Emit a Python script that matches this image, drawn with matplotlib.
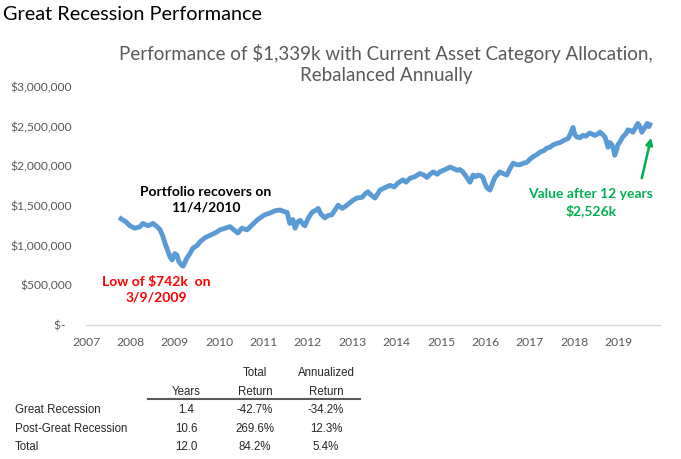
import matplotlib.pyplot as plt
from matplotlib.ticker import FuncFormatter

# portfolio value (millions of $), x in decimal years
years = [
    2007.79, 2007.90, 2007.99, 2008.10, 2008.22, 2008.28, 2008.40, 2008.51, 2008.60, 2008.67,
    2008.73, 2008.78, 2008.85, 2008.89, 2008.94, 2009.00, 2009.05, 2009.09, 2009.16, 2009.19,
    2009.27, 2009.34, 2009.41, 2009.50, 2009.57, 2009.68, 2009.79, 2009.91, 2010.02, 2010.13,
    2010.24, 2010.33, 2010.42, 2010.51, 2010.63, 2010.74, 2010.85, 2010.92, 2011.03, 2011.14,
    2011.26, 2011.37, 2011.46, 2011.53, 2011.59, 2011.66, 2011.71, 2011.77, 2011.82, 2011.89,
    2011.93, 2012.00, 2012.09, 2012.16, 2012.23, 2012.29, 2012.38, 2012.45, 2012.54, 2012.61,
    2012.68, 2012.77, 2012.83, 2012.92, 2013.01, 2013.10, 2013.22, 2013.28, 2013.35, 2013.42,
    2013.51, 2013.58, 2013.62, 2013.73, 2013.85, 2013.94, 2014.03, 2014.14, 2014.21, 2014.30,
    2014.41, 2014.52, 2014.61, 2014.68, 2014.75, 2014.82, 2014.91, 2014.97, 2015.09, 2015.20,
    2015.29, 2015.36, 2015.42, 2015.49, 2015.58, 2015.65, 2015.72, 2015.78, 2015.83, 2015.90,
    2015.94, 2015.99, 2016.03, 2016.10, 2016.14, 2016.21, 2016.28, 2016.32, 2016.39, 2016.48,
    2016.55, 2016.62, 2016.71, 2016.77, 2016.86, 2016.93, 2017.00, 2017.07, 2017.16, 2017.23,
    2017.32, 2017.38, 2017.45, 2017.52, 2017.61, 2017.68, 2017.77, 2017.86, 2017.92, 2017.97,
    2018.01, 2018.06, 2018.13, 2018.19, 2018.26, 2018.35, 2018.42, 2018.46, 2018.53, 2018.58,
    2018.64, 2018.69, 2018.73, 2018.76, 2018.80, 2018.85, 2018.89, 2018.91, 2018.96, 2018.98,
    2019.03, 2019.09, 2019.16, 2019.21, 2019.27, 2019.32, 2019.39, 2019.43, 2019.48, 2019.52,
    2019.59, 2019.64, 2019.68, 2019.70,
]
values = [
    1.339, 1.30, 1.25, 1.22, 1.24, 1.28, 1.25, 1.28, 1.24, 1.20,
    1.12, 1.03, 0.92, 0.86, 0.82, 0.90, 0.88, 0.80, 0.75, 0.742,
    0.84, 0.90, 0.97, 1.00, 1.05, 1.10, 1.13, 1.16, 1.20, 1.22,
    1.24, 1.20, 1.16, 1.22, 1.20, 1.26, 1.32, 1.35, 1.39, 1.41,
    1.44, 1.45, 1.43, 1.42, 1.28, 1.33, 1.22, 1.30, 1.32, 1.27,
    1.25, 1.34, 1.42, 1.44, 1.47, 1.40, 1.35, 1.38, 1.39, 1.45,
    1.51, 1.47, 1.49, 1.53, 1.57, 1.60, 1.61, 1.65, 1.68, 1.64,
    1.60, 1.66, 1.70, 1.73, 1.76, 1.74, 1.79, 1.83, 1.80, 1.85,
    1.87, 1.91, 1.89, 1.86, 1.90, 1.93, 1.90, 1.93, 1.96, 1.99,
    1.97, 1.95, 1.96, 1.93, 1.86, 1.80, 1.89, 1.87, 1.89, 1.88,
    1.86, 1.78, 1.73, 1.70, 1.76, 1.86, 1.90, 1.93, 1.91, 1.89,
    1.97, 2.04, 2.02, 2.02, 2.04, 2.05, 2.09, 2.12, 2.15, 2.18,
    2.20, 2.23, 2.24, 2.27, 2.29, 2.30, 2.33, 2.35, 2.42, 2.49,
    2.40, 2.37, 2.36, 2.39, 2.38, 2.42, 2.40, 2.39, 2.41, 2.43,
    2.40, 2.37, 2.30, 2.24, 2.30, 2.27, 2.20, 2.14, 2.22, 2.27,
    2.31, 2.37, 2.41, 2.46, 2.45, 2.43, 2.50, 2.54, 2.50, 2.43,
    2.49, 2.54, 2.50, 2.526,
]

year_ticks = list(range(2007, 2020))
y_ticks = [0, 0.5, 1.0, 1.5, 2.0, 2.5, 3.0]

# summary table
row_names = ["Great Recession", "Post-Great Recession", "Total"]
period_years = ["1.4", "10.6", "12.0"]
total_return = ["-42.7%", "269.6%", "84.2%"]
annualized_return = ["-34.2%", "12.3%", "5.4%"]

W, H = 681, 459


def fx(x):
    return x / W


def fy(y):
    return 1 - y / H


fig = plt.figure(figsize=(6.81, 4.59), dpi=100)
ax = fig.add_axes([fx(86), fy(325), fx(660) - fx(86), fy(87) - fy(325)])

ax.plot(years, values, color="#5B9BD5", lw=3.5, solid_joinstyle="round")

ax.set_xlim(2007.0, 2019.93)
ax.set_ylim(0, 3.0)
ax.set_xticks(year_ticks)
ax.set_yticks(y_ticks)


def money(v, pos):
    if v == 0:
        return "$-  "
    return f"${v * 1e6:,.0f}"


ax.yaxis.set_major_formatter(FuncFormatter(money))
ax.tick_params(length=0, labelsize=8.7, labelcolor="#595959", labelfontfamily="Lato")
ax.tick_params(axis="y", pad=10)
ax.tick_params(axis="x", pad=9)
for side in ["top", "right", "left"]:
    ax.spines[side].set_visible(False)
ax.spines["bottom"].set_color("#D9D9D9")
ax.spines["bottom"].set_linewidth(1.0)

# titles
fig.text(fx(3), fy(14), "Great Recession Performance", fontsize=14.3, family="Lato",
         ha="left", va="center", color="black")
fig.text(fx(386), fy(64), "Performance of $1,339k with Current Asset Category Allocation,\nRebalanced Annually",
         fontsize=13.5, family="Lato", ha="center", va="center", color="#595959", linespacing=1.3)

# annotations
ax.text(2009.70, 1.58, "Portfolio recovers on\n11/4/2010", fontsize=10, family="Lato",
        fontweight="bold", ha="center", va="center", color="black", linespacing=1.35)
ax.text(2008.58, 0.45, "Low of $742k  on\n3/9/2009", fontsize=10, family="Lato",
        fontweight="bold", ha="center", va="center", color="#FF0000", linespacing=1.35)
ax.text(2018.37, 1.54, "Value after 12 years\n$2,526k", fontsize=10, family="Lato",
        fontweight="bold", ha="center", va="center", color="#00B050", linespacing=1.35)
ax.annotate("", xy=(2019.73, 2.36), xytext=(2019.52, 1.85),
            arrowprops=dict(arrowstyle="-|>", color="#00B050", lw=1.8, mutation_scale=10,
                            shrinkA=0, shrinkB=0))

# table
tcolor = "#262626"
tfont = dict(fontsize=8.3, family="Liberation Sans", color=tcolor)
col_x = [186, 255, 326]
fig.text(fx(255), fy(373), "Total", ha="center", va="center", **tfont)
fig.text(fx(326), fy(373), "Annualized", ha="center", va="center", **tfont)
fig.text(fx(186), fy(392), "Years", ha="center", va="center", **tfont)
fig.text(fx(255), fy(392), "Return", ha="center", va="center", **tfont)
fig.text(fx(326), fy(392), "Return", ha="center", va="center", **tfont)
fig.add_artist(plt.Line2D([fx(148), fx(360)], [fy(399), fy(399)], color="#595959", lw=1.5))

row_y = [410, 429, 447]
for i, name in enumerate(row_names):
    fig.text(fx(15), fy(row_y[i]), name, ha="left", va="center", **tfont)
    for cx, col in zip(col_x, [period_years, total_return, annualized_return]):
        fig.text(fx(cx), fy(row_y[i]), col[i], ha="center", va="center", **tfont)

fig.savefig("out.png", dpi=100)
